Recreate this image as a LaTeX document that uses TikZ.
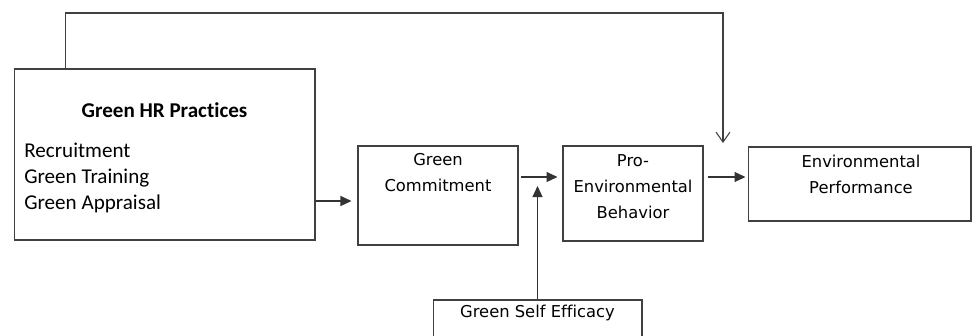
\documentclass[tikz,border=0pt]{standalone}
\usepackage{fontspec}
\setmainfont{Carlito}[Ligatures=NoCommon]
\newfontfamily\boxfont{DejaVu Sans}[Ligatures=NoCommon]
\usetikzlibrary{arrows.meta, positioning, calc}
\tikzset{
    block/.style={
        rectangle, draw=black!75, line width=0.6pt,
        inner sep=0pt
    },
    blocktext/.style={
        font=\boxfont\fontsize{9.3}{14.8}\selectfont,
        align=center, inner sep=0pt, text=black
    },
    arrow/.style={-{Triangle[length=0.22cm, width=0.2cm]}, line width=0.6pt, draw=black!80},
    feedback/.style={-{Straight Barb[length=0.2cm, width=0.28cm]}, line width=0.6pt, draw=black!75}
}
\begin{document}
\begin{tikzpicture}[x=0.02cm, y=-0.02cm]
    \useasboundingbox (0,0) rectangle (972,335);
    \fill[white] (0,0) rectangle (972,335);
    \clip (0,0) rectangle (972,335);

    % boxes
    \node[block, minimum width=6.02cm, minimum height=3.42cm] (ghr) at (164.5,154.5) {};
    \node[block, minimum width=3.2cm, minimum height=1.98cm] (gc) at (438,195.5) {};
    \node[block, minimum width=2.8cm, minimum height=1.9cm] (peb) at (633,193.5) {};
    \node[block, minimum width=4.46cm, minimum height=1.48cm] (ep) at (859.5,184) {};
    \node[block, minimum width=4.18cm, minimum height=1.4cm] (gse) at (537.5,335) {};

    % texts
    \node[font=\bfseries\fontsize{12}{14.8}\selectfont, inner sep=0pt] (ghrtitle) at (164.5,110) {Green HR Practices};
    \node[anchor=west, align=left, font=\fontsize{12}{14.75}\selectfont, inner sep=0pt] (ghritems) at (24,178) {Recruitment\\Green Training\\Green Appraisal};
    \node[blocktext] (gctext) at (438,173) {Green\\Commitment};
    \node[blocktext] (pebtext) at (633,187) {Pro-\\Environmental\\Behavior};
    \node[blocktext] (eptext) at (861,174) {Environmental\\Performance};
    \node[blocktext] (gsetext) at (537.5,313) {Green Self Efficacy};

    \coordinate (mod) at (537.5,186);
    \coordinate (fbstart) at ($(ghr.north west)+(52,0)$);
    \coordinate (fbtop) at (723,13);
    \coordinate (fbend) at (723,143);

    % connectors
    \draw[arrow, shorten >=0.12cm] ($(ghr.east)+(0,46.5)$) -- ($(gc.west)+(0,5.5)$);
    \draw[arrow, shorten <=0.04cm, shorten >=0.1cm] ($(gc.east)+(0,-18.5)$) -- ($(peb.west)+(0,-16.5)$);
    \draw[arrow, shorten <=0.08cm, shorten >=0.04cm] ($(peb.east)+(0,-16.5)$) -- ($(ep.west)+(0,-7)$);
    \draw[arrow] (gse.north) -- (mod);
    \draw[feedback] (fbstart) |- (fbtop) -- (fbend);
\end{tikzpicture}
\end{document}
